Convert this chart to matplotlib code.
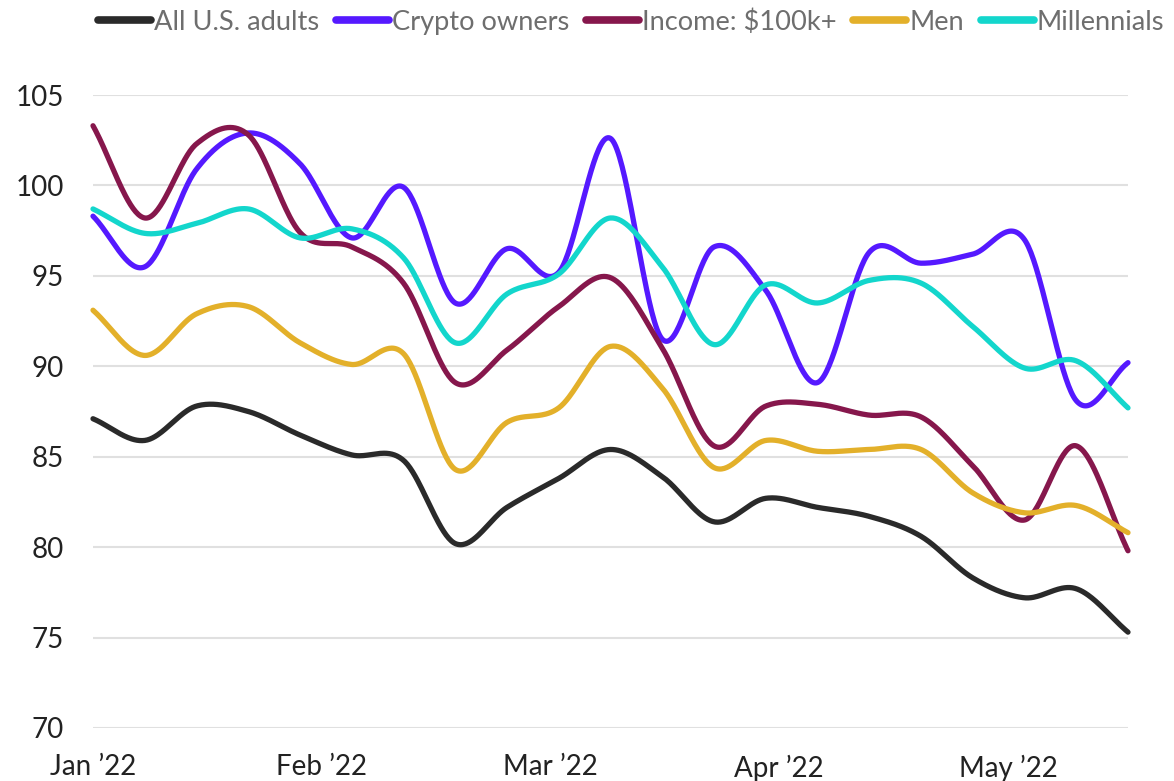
import numpy as np
import matplotlib
matplotlib.use("Agg")
import matplotlib.pyplot as plt
from matplotlib.lines import Line2D

plt.rcParams['font.family'] = ['Lato', 'DejaVu Sans']

# ---- data (weekly index points) ----
tick_labels = ["Jan \u201922", "Feb \u201922", "Mar \u201922", "Apr \u201922", "May \u201922"]
tick_positions = [0, 4.42, 8.84, 13.26, 17.68]

all_adults = [87.1, 85.9, 87.8, 87.5, 86.2, 85.1, 84.8, 80.2, 82.2, 83.8, 85.4,
              83.9, 81.4, 82.7, 82.2, 81.7, 80.6, 78.3, 77.2, 77.7, 75.3]
crypto = [98.3, 95.5, 100.9, 102.9, 101.2, 97.1, 99.9, 93.5, 96.5, 95.2, 102.6,
          91.5, 96.6, 94.2, 89.1, 96.3, 95.7, 96.2, 97.0, 88.1, 90.2]
income = [103.3, 98.2, 102.3, 102.8, 97.4, 96.6, 94.6, 89.1, 90.9, 93.3, 94.9,
          91.0, 85.6, 87.8, 87.9, 87.3, 87.2, 84.5, 81.5, 85.6, 79.8]
men = [93.1, 90.6, 92.9, 93.3, 91.3, 90.1, 90.7, 84.3, 86.9, 87.7, 91.1,
       88.8, 84.4, 85.9, 85.3, 85.4, 85.4, 83.0, 81.9, 82.3, 80.8]
millennials = [98.7, 97.35, 97.9, 98.7, 97.1, 97.6, 96.0, 91.3, 94.0, 95.1, 98.2,
               95.5, 91.2, 94.5, 93.5, 94.75, 94.6, 92.2, 89.9, 90.3, 87.7]

series_names = ["All U.S. adults", "Crypto owners", "Income: $100k+", "Men", "Millennials"]
series_values = [all_adults, crypto, income, men, millennials]
colors = ["#2a2a2a", "#5519ff", "#86174c", "#e3b02a", "#13d6cc"]


def catmull_rom(y, steps=40):
    y = np.asarray(y, dtype=float)
    n = len(y)
    x = np.arange(n, dtype=float)
    p = np.concatenate([[2 * y[0] - y[1]], y, [2 * y[-1] - y[-2]]])
    xs, ys = [], []
    t = np.linspace(0, 1, steps, endpoint=False)
    for i in range(n - 1):
        p0, p1, p2, p3 = p[i], p[i + 1], p[i + 2], p[i + 3]
        m1 = (p2 - p0) / 2.0
        m2 = (p3 - p1) / 2.0
        h00 = 2 * t**3 - 3 * t**2 + 1
        h10 = t**3 - 2 * t**2 + t
        h01 = -2 * t**3 + 3 * t**2
        h11 = t**3 - t**2
        xs.append(x[i] + t)
        ys.append(h00 * p1 + h10 * m1 + h01 * p2 + h11 * m2)
    xs.append([x[-1]])
    ys.append([y[-1]])
    return np.concatenate(xs), np.concatenate(ys)


fig = plt.figure(figsize=(11.74, 7.81), dpi=100)
ax = fig.add_axes([93 / 1174, 1 - 728 / 781, (1128 - 93) / 1174, (728 - 95) / 781])

for vals, c in zip(series_values, colors):
    sx, sy = catmull_rom(vals)
    ax.plot(sx, sy, color=c, lw=3.8, solid_capstyle='round', clip_on=False, zorder=3)

ax.set_xlim(0, len(all_adults) - 1)
ax.set_ylim(70, 105)
ax.set_yticks([70, 75, 80, 85, 90, 95, 100, 105])
ax.set_xticks(tick_positions)
ax.set_xticklabels(tick_labels)
ax.grid(axis='y', color='#e0e0e0', lw=1.5, zorder=0)
ax.grid(axis='x', visible=False)
for s in ax.spines.values():
    s.set_visible(False)
ax.tick_params(axis='both', length=0, labelsize=20, labelcolor='#222222')
ax.tick_params(axis='y', pad=21)
ax.tick_params(axis='x', pad=19)

handles = [Line2D([], [], color=c, lw=5.5, solid_capstyle='round') for c in colors]
leg = fig.legend(handles, series_names, loc='center left', bbox_to_anchor=(98 / 1174, 1 - 22 / 781),
                 ncol=5, frameon=False, handlelength=1.95, handletextpad=0.12,
                 columnspacing=0.6, borderpad=0, borderaxespad=0, labelcolor='#6e6e6e',
                 prop={'family': ['Lato', 'DejaVu Sans'], 'size': 19.6, 'weight': 'normal'})

fig.savefig("out.png", dpi=100)
